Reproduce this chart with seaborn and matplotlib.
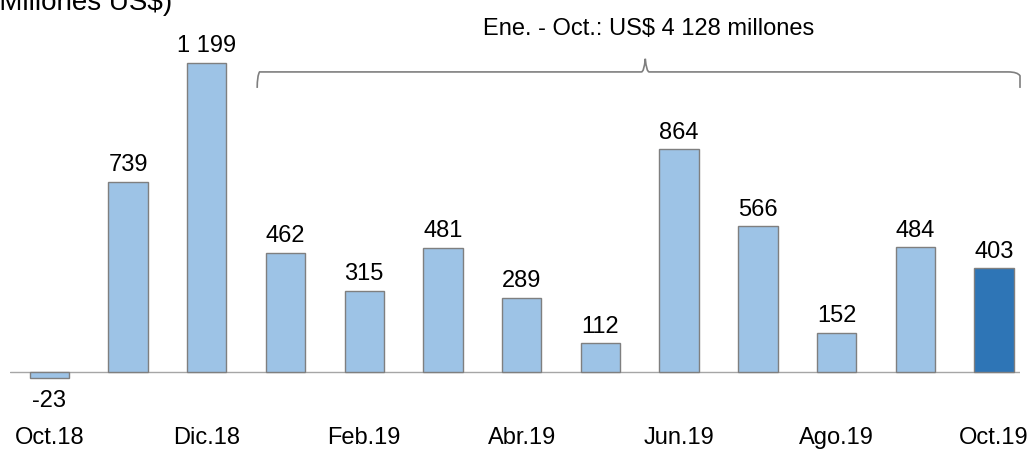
import numpy as np
import pandas as pd
import matplotlib
matplotlib.use("Agg")
import matplotlib.pyplot as plt
from matplotlib.path import Path
from matplotlib.patches import PathPatch
import seaborn as sns

# datos (millones US$)
meses = ["Oct.18", "Nov.18", "Dic.18", "Ene.19", "Feb.19", "Mar.19", "Abr.19",
         "May.19", "Jun.19", "Jul.19", "Ago.19", "Set.19", "Oct.19"]
valores = [-23, 739, 1199, 462, 315, 481, 289, 112, 864, 566, 152, 484, 403]
etiquetas = ["-23", "739", "1 199", "462", "315", "481", "289", "112", "864",
             "566", "152", "484", "403"]
meses_eje = ["Oct.18", "Dic.18", "Feb.19", "Abr.19", "Jun.19", "Ago.19", "Oct.19"]
texto_llave = "Ene. - Oct.: US$ 4 128 millones"

sns.set_style("white")
plt.rcParams["font.family"] = ["Liberation Sans", "DejaVu Sans"]
plt.rcParams["text.color"] = "black"
plt.rcParams["xtick.color"] = "black"

df = pd.DataFrame({"mes": meses, "valor": valores})
colores = {m: "#9DC3E6" for m in meses}
colores["Oct.19"] = "#2E75B6"

fig = plt.figure(figsize=(10.32, 4.5), dpi=100)
ax = fig.add_axes([10 / 1032, 30 / 450, 1010 / 1032, 420 / 450])

sns.barplot(data=df, x="mes", y="valor", hue="mes", palette=colores, legend=False,
            width=0.5, edgecolor="#7F7F7F", linewidth=1, saturation=1, ax=ax)

ax.set_xlim(-0.5, 12.33)
ax.set_ylim(-186, 1443)
ax.axhline(0, color="#A6A6A6", lw=1, zorder=0)
for s in ax.spines.values():
    s.set_visible(False)
ax.set_yticks([])
ax.set_xlabel("")
ax.set_ylabel("")
ax.set_xticks([meses.index(m) for m in meses_eje])
ax.set_xticklabels(meses_eje, fontsize=17)
ax.tick_params(axis="x", length=0, pad=5)

for i, (v, t) in enumerate(zip(valores, etiquetas)):
    if v >= 0:
        ax.annotate(t, (i, v), xytext=(0, 4), textcoords="offset points",
                    ha="center", va="bottom", fontsize=17)
    else:
        ax.annotate(t, (i, v), xytext=(0, -9), textcoords="offset points",
                    ha="center", va="top", fontsize=17)

# llave sobre Ene.-Oct.
x0, x1, xm = 2.64, 12.33, 7.57
yb, yl, yt = 1102, 1164, 1215
verts = [(x0, yb), (x0, yl - 15), (x0 + 0.03, yl), (x0 + 0.15, yl),
         (xm - 0.05, yl), (xm - 0.015, yl), (xm, yt), (xm + 0.015, yl), (xm + 0.05, yl),
         (x1 - 0.15, yl), (x1 - 0.03, yl), (x1, yl - 15), (x1, yb)]
codes = [Path.MOVETO, Path.CURVE3, Path.CURVE3, Path.LINETO,
         Path.LINETO, Path.CURVE3, Path.CURVE3, Path.CURVE3, Path.CURVE3,
         Path.LINETO, Path.CURVE3, Path.CURVE3, Path.LINETO]
ax.add_patch(PathPatch(Path(verts, codes), fill=False, ec="#7F7F7F", lw=1.2,
                       clip_on=False))
ax.text(xm + 0.04, 1330, texto_llave, ha="center", va="center", fontsize=17)

fig.text(172 / 1032, 440 / 450, "(Millones US$)", ha="right", va="baseline",
         fontsize=20)

fig.savefig("out.png", dpi=100)
